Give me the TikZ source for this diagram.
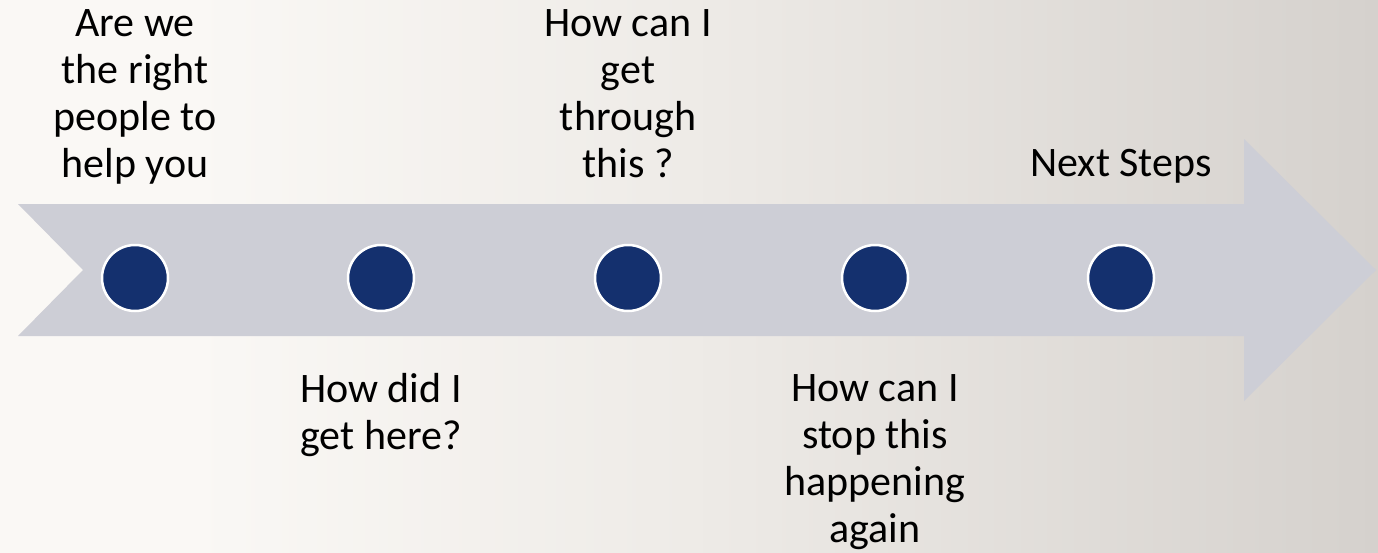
\documentclass[tikz,border=0pt]{standalone}
\usepackage{fontspec}
\setmainfont{Carlito}
\definecolor{bgL}{RGB}{250,248,245}
\definecolor{bgM}{RGB}{238,235,231}
\definecolor{bgR}{RGB}{213,209,205}
\definecolor{arrowfill}{RGB}{205,206,214}
\definecolor{dotblue}{RGB}{20,48,110}
% only the 25bp..75bp part of a shading covers the path
\pgfdeclarehorizontalshading{bgshade}{100bp}{color(0bp)=(bgL); color(32bp)=(bgL); color(50bp)=(bgM); color(75bp)=(bgR); color(100bp)=(bgR)}
\tikzset{
  dot/.style={circle, fill=dotblue, draw=white, line width=2.5pt, minimum size=66pt, inner sep=0pt},
  lbl/.style={align=center, anchor=base, inner sep=0pt, text=black, font=\fontsize{42}{46.7}\selectfont}
}
\begin{document}
\begin{tikzpicture}[x=1pt,y=1pt]
  \path[shading=bgshade] (0,0) rectangle (1378,-552);
  \useasboundingbox (0,0) rectangle (1378,-552);
  % arrow
  \fill[arrowfill] (18,-204) -- (1244,-204) -- (1244,-139) -- (1376,-270) -- (1244,-401)
     -- (1244,-336) -- (18,-336) -- (83,-270) -- cycle;
  % dots
  \node[dot] (c1) at (135,-278) {};
  \node[dot] (c2) at (381,-278) {};
  \node[dot] (c3) at (628,-278) {};
  \node[dot] (c4) at (875,-278) {};
  \node[dot] (c5) at (1121,-278) {};
  % labels above (anchor = baseline of last line)
  \node[lbl] (t1) at (135,-177) {Are we\\the right\\people to\\help you};
  \node[lbl] (t3) at (628,-177) {How can I\\get\\through\\this ?};
  \node[lbl] (t5) at (1121,-176) {Next Steps};
  % labels below
  \node[lbl] (t2) at (381,-449) {How did I\\get here?};
  \node[lbl] (t4) at (875,-542) {How can I\\stop this\\happening\\again};
\end{tikzpicture}
\end{document}
